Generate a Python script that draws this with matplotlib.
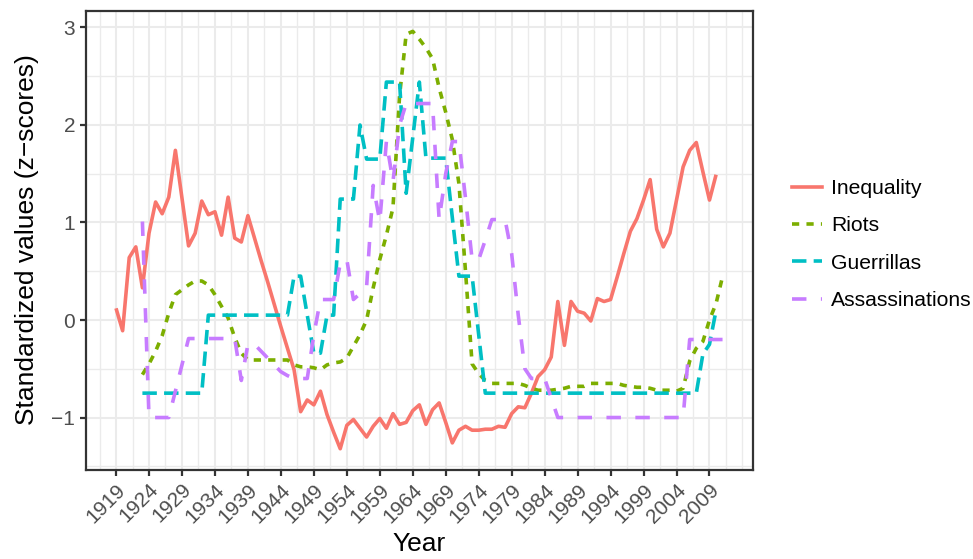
import numpy as np
import matplotlib
matplotlib.use("Agg")
import matplotlib.pyplot as plt
from matplotlib.lines import Line2D

plt.rcParams['font.family'] = ['Liberation Sans', 'DejaVu Sans']

# ---------------- data ----------------
ineq_years = list(range(1919, 2011))
inequality = [0.12, -0.11, 0.64, 0.75, 0.33, 0.89, 1.21, 1.09, 1.26, 1.74,
              1.25, 0.76, 0.89, 1.22, 1.08, 1.11, 0.87, 1.26, 0.84, 0.80,
              1.07, 0.84, 0.61, 0.39, 0.16, -0.07, -0.29, -0.51, -0.94, -0.82,
              -0.87, -0.73, -0.97, -1.15, -1.32, -1.08, -1.02, -1.11, -1.20, -1.09,
              -1.01, -1.11, -0.96, -1.07, -1.05, -0.93, -0.87, -1.07, -0.92, -0.85,
              -1.05, -1.26, -1.13, -1.09, -1.13, -1.13, -1.12, -1.12, -1.09, -1.10,
              -0.96, -0.89, -0.90, -0.75, -0.58, -0.51, -0.38, 0.19, -0.26, 0.19,
              0.09, 0.07, -0.01, 0.22, 0.19, 0.21, 0.44, 0.68, 0.91, 1.04,
              1.23, 1.44, 0.93, 0.75, 0.89, 1.23, 1.57, 1.74, 1.82, 1.52,
              1.23, 1.49]

riots_years = list(range(1923, 2012))
riots = [-0.56, -0.45, -0.32, -0.16, 0.07, 0.26, 0.31, 0.36, 0.40, 0.40,
         0.36, 0.26, 0.14, 0.02, -0.18, -0.34, -0.41, -0.41, -0.41, -0.41,
         -0.41, -0.41, -0.41, -0.46, -0.48, -0.48, -0.49, -0.51, -0.46, -0.44,
         -0.43, -0.39, -0.27, -0.15, 0.00, 0.33, 0.62, 0.87, 1.15, 2.30,
         2.93, 2.96, 2.88, 2.79, 2.68, 2.38, 2.13, 1.85, 1.40, 0.50,
         -0.45, -0.55, -0.62, -0.65, -0.65, -0.65, -0.65, -0.65, -0.67, -0.70,
         -0.72, -0.72, -0.72, -0.71, -0.70, -0.68, -0.68, -0.68, -0.65, -0.65,
         -0.65, -0.65, -0.65, -0.67, -0.68, -0.69, -0.69, -0.70, -0.72, -0.72,
         -0.72, -0.73, -0.70, -0.42, -0.29, -0.22, 0.00, 0.17, 0.45]

guer_years = list(range(1923, 2011))
guerrillas = ([-0.75] * 10 + [0.05] * 13 +
              [0.45, 0.45, 0.05, -0.34, -0.34, 0.05, 0.05, 1.24, 1.24, 1.24,
               2.00, 1.65, 1.65, 1.65, 2.44, 2.44, 2.44, 1.30, 1.87, 2.44,
               1.66, 1.66, 1.66, 1.66, 1.05, 0.45, 0.45, 0.45, -0.15] +
              [-0.75] * 33 + [-0.35, -0.25, 0.10])

assa_years = list(range(1923, 2012))
assassinations = ([1.01, -1.00, -1.00, -1.00, -1.00, -0.73, -0.46, -0.19] +
                  [-0.19] * 7 +
                  [-0.62, -0.25, -0.25, -0.32, -0.39, -0.46, -0.53, -0.57, -0.60,
                   -0.60, -0.60, -0.15, 0.21, 0.21, 0.21, 0.58, 0.62, 0.21, 0.27,
                   0.34, 1.38, 1.01, 1.83, 1.42, 2.00, 2.22, 2.22, 2.22, 2.22,
                   2.22, 1.03, 1.50, 1.83, 1.83, 1.25, 0.62, 0.62, 0.82, 1.03,
                   1.03, 1.03, 0.68, 0.05, -0.50, -0.60, -0.60, -0.60, -0.80] +
                  [-1.00] * 20 + [-0.20] * 6)

labels = ["Inequality", "Riots", "Guerrillas", "Assassinations"]
colors = ["#F8766D", "#7CAE00", "#00BFC4", "#C77CFF"]
dashes = [None, (2, 2), (4, 2), (4, 4)]

xticks = list(range(1919, 2010, 5))
yticks = [-1, 0, 1, 2, 3]

# ---------------- figure ----------------
W, H = 973, 559
fig = plt.figure(figsize=(W / 100, H / 100), dpi=100)
ax = fig.add_axes([85.7 / W, 1 - 469.6 / H, (753 - 85.7) / W, (469.6 - 10.5) / H])

series = [(ineq_years, inequality), (riots_years, riots),
          (guer_years, guerrillas), (assa_years, assassinations)]
lw = 2.6
for (xs, ys), lab, col, d in zip(series, labels, colors, dashes):
    line, = ax.plot(xs, ys, color=col, lw=lw, label=lab,
                    solid_capstyle='butt', dash_capstyle='butt', solid_joinstyle='round')
    if d is not None:
        line.set_dashes(d)

ax.margins(x=0.05, y=0.05)

ax.set_xticks(xticks)
ax.set_xticklabels([str(t) for t in xticks])
ax.set_yticks(yticks)
xl = ax.get_xlim()
yl = ax.get_ylim()
xminor = [v for v in np.arange(xticks[0] - 5, xticks[-1] + 10, 2.5) if xl[0] < v < xl[1] and v not in xticks]
yminor = [v for v in np.arange(-1.5, 3.6, 1.0) if yl[0] < v < yl[1]]
ax.set_xticks(xminor, minor=True)
ax.set_yticks(yminor, minor=True)

ax.set_axisbelow(True)
ax.grid(which='major', color='#EBEBEB', lw=1.5)
ax.grid(which='minor', color='#EBEBEB', lw=1.0)
for s in ax.spines.values():
    s.set_color('#333333')
    s.set_linewidth(1.6)

ax.tick_params(which='major', length=4.5, width=1.6, color='#333333',
               labelsize=15, labelcolor='#4D4D4D', pad=3)
ax.tick_params(which='minor', length=0)
for t in ax.get_xticklabels():
    t.set_rotation(45)
    t.set_ha('right')
    t.set_va('top')
    t.set_rotation_mode('anchor')

ax.set_xlabel("Year", fontsize=19, color='black', labelpad=4)
ax.set_ylabel("Standardized values (z\u2212scores)", fontsize=19, color='black', labelpad=9)

leg_handles = []
for lab, col, d in zip(labels, colors, dashes):
    h = Line2D([0], [0], color=col, lw=lw)
    if d is not None:
        h.set_dashes(d)
    leg_handles.append(h)
fig.legend(leg_handles, labels, loc='center left', bbox_to_anchor=(792 / W, 1 - 244.5 / H),
           frameon=False, fontsize=15.2, handlelength=1.4, handletextpad=0.45,
           labelspacing=0.87, borderpad=0, borderaxespad=0)

fig.savefig("out.png", dpi=100)
